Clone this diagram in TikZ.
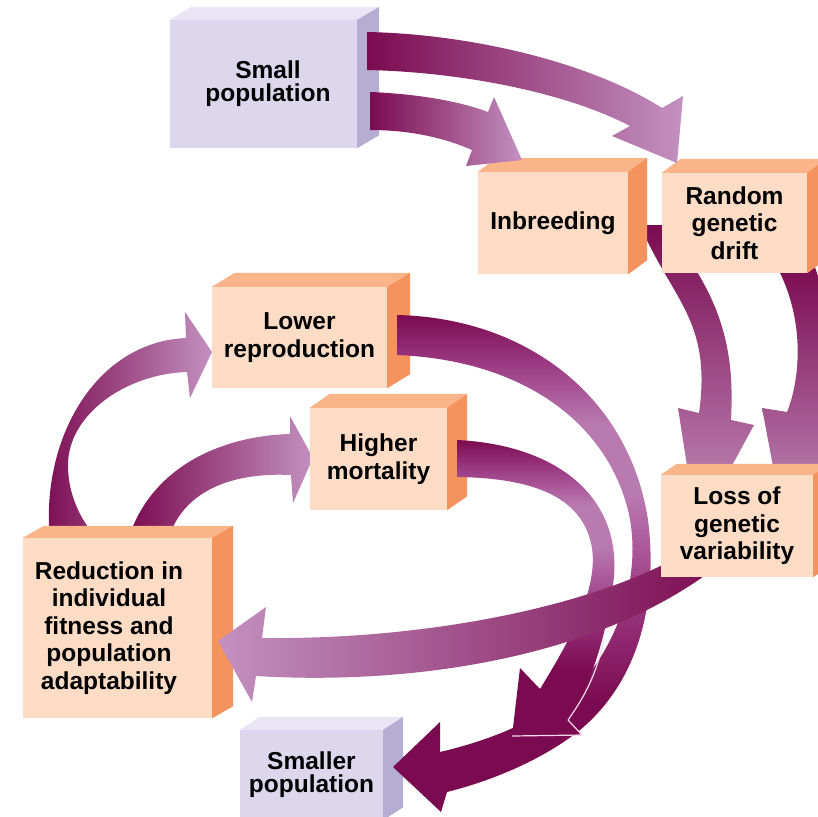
\documentclass[tikz,border=0pt]{standalone}
\usepackage{fontspec}
\setmainfont{Liberation Sans}
\usetikzlibrary{calc}
\pgfdeclarelayer{bg}
\pgfdeclarelayer{fg}
\pgfsetlayers{bg,main,fg}
\definecolor{arrdark}{HTML}{7B0B50}
\definecolor{arrmid}{HTML}{9C3C84}
\definecolor{arrpale}{HTML}{B97AB0}
\definecolor{arrlight}{HTML}{C391C0}
\definecolor{lavfront}{HTML}{DDD7EE}
\definecolor{lavtop}{HTML}{E9E5F4}
\definecolor{lavside}{HTML}{B6ADD3}
\definecolor{orgfront}{HTML}{FDDCC6}
\definecolor{orgtop}{HTML}{F9B48A}
\definecolor{orgside}{HTML}{F5935E}
\definecolor{rimcol}{HTML}{F2D8EC}
\pgfdeclareverticalshading{loopshade}{100bp}{color(0bp)=(arrdark); color(25bp)=(arrdark); color(36bp)=(arrdark); color(47bp)=(arrmid); color(57bp)=(arrpale); color(64bp)=(arrpale); color(70bp)=(arrmid); color(75bp)=(arrdark); color(100bp)=(arrdark)}
\newcommand\cubefaces[5]{%
  \fill[#4] (#1.north west) -- ++(#2,#3) -- ($(#1.north east)+(#2,#3)$) -- (#1.north east) -- cycle;
  \fill[#5] (#1.north east) -- ++(#2,#3) -- ($(#1.south east)+(#2,#3)$) -- (#1.south east) -- cycle;
}
\tikzset{
  face/.style={inner sep=0pt, align=center, text=black, font=\fontsize{24.5}{27.5}\selectfont\bfseries},
  lavbox/.style={face, fill=lavfront, font=\fontsize{24.5}{23}\selectfont\bfseries},
  orgbox/.style={face, fill=orgfront},
  fwd/.style={left color=arrdark, right color=arrlight},
  back/.style={left color=arrlight, right color=arrdark},
  down/.style={top color=arrdark, bottom color=arrlight},
}
\begin{document}
\begin{tikzpicture}[x=1pt,y=-1pt]
\useasboundingbox (0,0) rectangle (818,816);
\begin{pgfonlayer}{bg}
\fill[white] (0,0) rectangle (818,816);
% Inbreeding -> Loss
\shade[down] (640,225) .. controls (672,300) and (712,320) .. (699,413) -- (678,408) -- (697,530) -- (754,425) -- (731,420) .. controls (734,360) and (728,300) .. (662,225) -- cycle;
% Drift -> Loss
\shade[down] (776,265) .. controls (806,320) and (800,380) .. (787,412) -- (762,408) -- (785,530) -- (845,420) -- (820,416) .. controls (832,370) and (832,310) .. (814,265) -- cycle;
% Reduction -> Lower reproduction
\shade[fwd] (50,540) .. controls (40,440) and (95,342) .. (186,338) -- (185,312) -- (212,352) -- (190,398) -- (187,372) .. controls (125,374) and (68,415) .. (68,465) .. controls (68,500) and (85,525) .. (98,540) -- cycle;
% Reduction -> Higher mortality
\shade[fwd] (128,540) .. controls (150,468) and (220,436) .. (290,434) -- (290,416) -- (313,458) -- (293,503) -- (291,475) .. controls (230,472) and (182,492) .. (168,540) -- cycle;
\end{pgfonlayer}

\node[lavbox, minimum width=187, minimum height=128] (small) at (263.5,84) {\kern9pt Small\\\kern9pt population};
\cubefaces{small}{22}{-13}{lavtop}{lavside}
\node[orgbox, minimum width=150, minimum height=102] (inbr) at (553,223) {Inbreeding};
\cubefaces{inbr}{19}{-14}{orgtop}{orgside}
\node[orgbox, minimum width=145, minimum height=100] (drift) at (734.5,223) {Random\\genetic\\drift};
\cubefaces{drift}{19}{-14}{orgtop}{orgside}
\node[orgbox, minimum width=175, minimum height=101] (lowrep) at (299.5,337.5) {Lower\\reproduction};
\cubefaces{lowrep}{23}{-14}{orgtop}{orgside}
\node[orgbox, minimum width=137, minimum height=102] (highmort) at (378.5,459) {Higher\\mortality};
\cubefaces{highmort}{20}{-14}{orgtop}{orgside}
\node[orgbox, minimum width=189, minimum height=180] (reduct) at (117.5,628) {Reduction in\kern17pt\\individual\kern17pt\\fitness and\kern17pt\\population\kern17pt\\adaptability\kern17pt};
\cubefaces{reduct}{21}{-12}{orgtop}{orgside}
\node[lavbox, minimum width=143, minimum height=90] (smaller) at (311.5,775) {Smaller\\population};
\cubefaces{smaller}{20}{-13}{lavtop}{lavside}

\begin{pgfonlayer}{fg}
% Small -> Random genetic drift
\shade[fwd] (367,32) .. controls (470,34) and (590,62) .. (662,108) -- (683,96) -- (677,163) -- (612,136) -- (630,126) .. controls (565,92) and (460,72) .. (367,70) -- cycle;
% Small -> Inbreeding
\shade[fwd] (370,92) .. controls (420,94) and (462,102) .. (488,112) -- (494,97) -- (522,160) -- (466,166) -- (472,150) .. controls (445,138) and (410,130) .. (370,130) -- cycle;
% Lower reproduction -> Smaller population
\shade[shading=loopshade] (397,315) .. controls (530,318) and (630,400) .. (648,520) .. controls (658,600) and (640,680) .. (580,730) .. controls (545,758) and (495,780) .. (447,792) -- (441,812) -- (393,767) -- (440,722) -- (440,752) .. controls (500,738) and (560,712) .. (592,670) .. controls (628,620) and (640,560) .. (628,510) .. controls (605,420) and (520,360) .. (397,355) -- cycle;
% Higher mortality -> Smaller population
\shade[shading=loopshade] (457,440) .. controls (560,445) and (625,500) .. (613,585) .. controls (606,640) and (588,690) .. (568,720) -- (582,735) -- (512,736) -- (520,668) -- (540,689) .. controls (570,640) and (598,590) .. (592,548) .. controls (583,495) and (530,478) .. (457,477) -- cycle;
\draw[rimcol, line width=1.2pt, line join=round] (604,640) .. controls (596,675) and (585,696) .. (568,720) -- (582,735) -- (512,736);
% Loss -> Reduction
\shade[back] (690,550) .. controls (600,605) and (430,640) .. (262,638) -- (266,607) -- (218,641) -- (252,702) -- (256,676) .. controls (420,686) and (610,655) .. (725,560) -- cycle;
% Loss box on top
\node[orgbox, minimum width=152, minimum height=102] (loss) at (737,526) {Loss of\\genetic\\variability};
\cubefaces{loss}{16}{-11}{orgtop}{orgside}
\end{pgfonlayer}
\end{tikzpicture}
\end{document}
